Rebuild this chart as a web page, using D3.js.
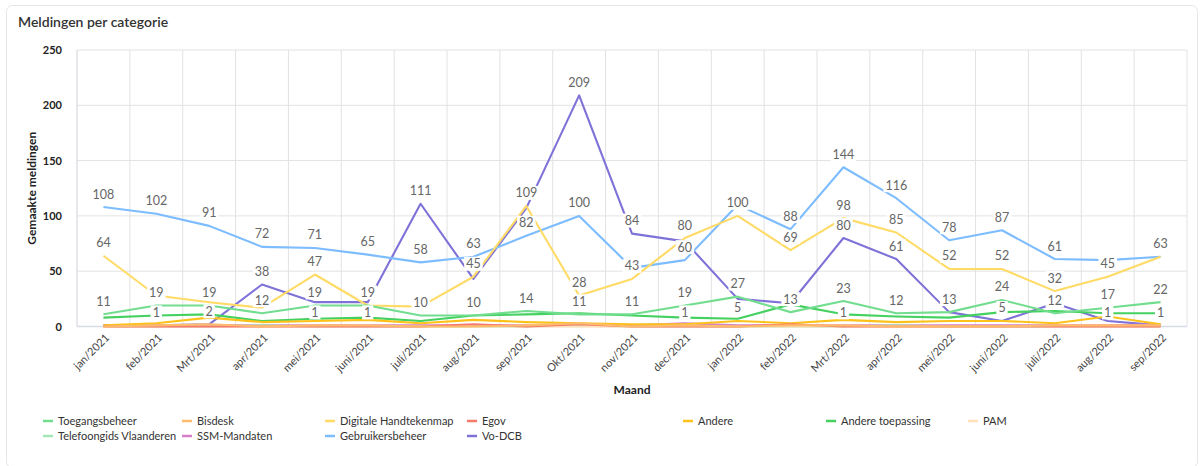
<!DOCTYPE html>
<html>
<head>
<meta charset="utf-8">
<script src="https://cdn.jsdelivr.net/npm/d3@7/dist/d3.min.js"></script>
<style>
	body { margin: 0; background: #fff; font-family: Lato, "Noto Sans", sans-serif; }
</style>
</head>
<body>
<div id="chart"></div>
<script>
const months = [
	"jan/2021", "feb/2021", "Mrt/2021", "apr/2021", "mei/2021", "juni/2021", "juli/2021",
	"aug/2021", "sep/2021", "Okt/2021", "nov/2021", "dec/2021", "jan/2022", "feb/2022",
	"Mrt/2022", "apr/2022", "mei/2022", "juni/2022", "juli/2022", "aug/2022", "sep/2022"
];

const yTicks = [0, 50, 100, 150, 200, 250];

// one array per series, in dataset order
const toegangsbeheer = [11, 19, 19, 12, 19, 19, 10, 10, 14, 11, 11, 19, 27, 13, 23, 12, 13, 24, 12, 17, 22];
const bisdesk = [0, 1, 2, 0, 1, 1, 0, 0, 1, 3, 0, 1, 0, 1, 1, 0, 0, 0, 1, 1, 1];
const digitaleHandtekenmap = [64, 28, 22, 17, 47, 19, 18, 45, 109, 28, 43, 80, 100, 69, 98, 85, 52, 52, 32, 45, 63];
const egov = [0, 0, 0, 0, 0, 0, 0, 2, 0, 2, 0, 0, 0, 2, 0, 0, 0, 0, 0, 0, 0];
const andere = [1, 3, 8, 4, 5, 6, 3, 6, 4, 3, 2, 2, 5, 3, 6, 4, 5, 5, 3, 9, 2];
const andereToepassing = [8, 10, 11, 5, 7, 8, 5, 10, 11, 12, 10, 8, 7, 20, 11, 9, 8, 13, 14, 12, 12];
const pam = [0, 0, 0, 0, 0, 0, 0, 0, 0, 0, 0, 0, 0, 0, 0, 0, 0, 0, 0, 0, 0];
const telefoongids = [0, 0, 0, 1, 0, 0, 0, 0, 0, 1, 0, 0, 0, 0, 0, 1, 0, 0, 0, 0, 0];
const ssmMandaten = [1, 1, 1, 1, 1, 1, 1, 1, 1, 1, 1, 3, 1, 1, 1, 1, 1, 1, 1, 1, 2];
const gebruikersbeheer = [108, 102, 91, 72, 71, 65, 58, 63, 82, 100, 53, 60, 110, 88, 144, 116, 78, 87, 61, 60, 63];
const voDcb = [1, 1, 2, 38, 22, 22, 111, 43, 107, 209, 84, 77, 25, 21, 80, 61, 13, 5, 21, 5, 1];

const seriesNames = [
	"Toegangsbeheer", "Bisdesk", "Digitale Handtekenmap", "Egov", "Andere", "Andere toepassing",
	"PAM", "Telefoongids Vlaanderen", "SSM-Mandaten", "Gebruikersbeheer", "Vo-DCB"
];
const seriesValues = [
	toegangsbeheer, bisdesk, digitaleHandtekenmap, egov, andere, andereToepassing,
	pam, telefoongids, ssmMandaten, gebruikersbeheer, voDcb
];
const seriesColors = [
	"#72dd8f", "#fdbb6c", "#ffdb66", "#f7796c", "#fcc21b", "#45d160",
	"#ffe0b8", "#a5e8b8", "#d680c9", "#7cbcff", "#7e72d8"
];

const W = 1200, H = 466;
const margin = { top: 50, right: 13, bottom: 139.5, left: 77 };
const plotW = W - margin.left - margin.right;
const plotH = H - margin.top - margin.bottom;

const svg = d3.select("#chart")
	.append("svg")
	.attr("width", W)
	.attr("height", H)
	.attr("viewBox", `0 0 ${W} ${H}`);

// card
svg.append("rect")
	.attr("x", 6.5).attr("y", 5.5)
	.attr("width", W - 9).attr("height", H - 4)
	.attr("rx", 6).attr("ry", 6)
	.attr("fill", "#fff")
	.attr("stroke", "#e6e6e6");

svg.append("text")
	.attr("x", 18).attr("y", 27)
	.attr("fill", "#333")
	.style("font-size", "14px")
	.style("font-weight", 600)
	.text("Meldingen per categorie");

const g = svg.append("g")
	.attr("transform", `translate(${margin.left}, ${margin.top})`);

const x = d3.scalePoint().domain(months).range([0, plotW]).padding(0.5);
const xBand = d3.scaleBand().domain(months).range([0, plotW]);
const y = d3.scaleLinear().domain([0, 250]).range([plotH, 0]);

// grid
g.append("g")
	.selectAll("line")
	.data(yTicks)
	.join("line")
	.attr("x1", 0).attr("x2", plotW)
	.attr("y1", d => y(d)).attr("y2", d => y(d))
	.attr("stroke", "#e2e2e2");

g.append("g")
	.selectAll("line")
	.data(months.concat([null]))
	.join("line")
	.attr("x1", d => (d ? xBand(d) : plotW))
	.attr("x2", d => (d ? xBand(d) : plotW))
	.attr("y1", 0).attr("y2", plotH)
	.attr("stroke", "#e2e2e2");

// axis borders
g.append("line")
	.attr("x1", 0).attr("x2", 0).attr("y1", 0).attr("y2", plotH)
	.attr("stroke", "#dcdfe6");
g.append("line")
	.attr("x1", 0).attr("x2", plotW).attr("y1", plotH).attr("y2", plotH)
	.attr("stroke", "#d6dbe6").attr("stroke-width", 1.5);

// y axis
const yAxis = g.append("g")
	.call(d3.axisLeft(y).tickValues(yTicks).tickSize(0).tickPadding(15));
yAxis.select(".domain").remove();
yAxis.selectAll("text")
	.attr("fill", "#222")
	.style("font-family", "Lato, sans-serif")
	.style("font-size", "11px")
	.style("font-weight", 700);

// x axis
const xAxis = g.append("g")
	.attr("transform", `translate(0, ${plotH})`)
	.call(d3.axisBottom(x).tickSize(0).tickPadding(0));
xAxis.select(".domain").remove();
xAxis.selectAll("text")
	.attr("fill", "#444")
	.style("font-family", "Lato, sans-serif")
	.style("font-size", "11px")
	.attr("text-anchor", "end")
	.attr("dy", null)
	.attr("y", 0)
	.attr("transform", "translate(6, 12) rotate(-45)");

svg.append("text")
	.attr("transform", `translate(36, ${margin.top + plotH / 2}) rotate(-90)`)
	.attr("text-anchor", "middle")
	.attr("fill", "#222")
	.style("font-size", "12px")
	.style("font-weight", 700)
	.text("Gemaakte meldingen");

svg.append("text")
	.attr("x", margin.left + plotW / 2)
	.attr("y", 394)
	.attr("text-anchor", "middle")
	.attr("fill", "#222")
	.style("font-size", "12px")
	.style("font-weight", 700)
	.text("Maand");

// lines, last dataset drawn first so dataset 0 is on top
const line = d3.line()
	.x((d, i) => x(months[i]))
	.y(d => y(d));

const order = d3.range(seriesValues.length).reverse();

g.append("g")
	.selectAll("path")
	.data(order)
	.join("path")
	.attr("d", s => line(seriesValues[s]))
	.attr("fill", "none")
	.attr("stroke", s => seriesColors[s])
	.attr("stroke-width", 2.1)
	.attr("stroke-linejoin", "round");

// data labels: above each point, zero hidden, overlapping ones dropped
// (lower month index first, then lower dataset index)
const labelFontSize = 12.5;
const labelH = 17;
const labelOffset = 13;

const measure = svg.append("text")
	.style("font-size", `${labelFontSize}px`)
	.attr("opacity", 0);

const candidates = [];
months.forEach((m, i) => {
	seriesValues.forEach((vals, s) => {
		const v = vals[i];
		if (!v) return;
		measure.text(v);
		const w = measure.node().getComputedTextLength() + 4;
		const cx = x(m);
		const cy = y(v) - labelOffset;
		candidates.push({ v, cx, cy, w, box: [cx - w / 2, cy - labelH / 2, cx + w / 2, cy + labelH / 2] });
	});
});
measure.remove();

const shown = [];
candidates.forEach(c => {
	const hit = shown.some(o =>
		c.box[0] < o.box[2] && c.box[2] > o.box[0] && c.box[1] < o.box[3] && c.box[3] > o.box[1]
	);
	if (!hit) shown.push(c);
});

const labels = g.append("g")
	.selectAll("g")
	.data(shown)
	.join("g")
	.attr("transform", d => `translate(${d.cx}, ${d.cy})`);

labels.append("rect")
	.attr("x", d => -d.w / 2)
	.attr("y", -7)
	.attr("width", d => d.w)
	.attr("height", 14)
	.attr("fill", "#fff");

labels.append("text")
	.attr("text-anchor", "middle")
	.attr("dy", "0.36em")
	.attr("fill", "#666")
	.style("font-size", `${labelFontSize}px`)
	.text(d => d.v);

// legend
const legendCols = [43, 182, 325, 467, 683, 826, 968];
const legendRows = [421, 436];

const legend = svg.append("g")
	.selectAll("g")
	.data(seriesNames)
	.join("g")
	.attr("transform", (d, i) => `translate(${legendCols[i % 7]}, ${legendRows[Math.floor(i / 7)]})`);

legend.append("line")
	.attr("x1", 0).attr("x2", 10)
	.attr("stroke", (d, i) => seriesColors[i])
	.attr("stroke-width", 2.5);

legend.append("text")
	.attr("x", 15)
	.attr("dy", "0.35em")
	.attr("fill", "#333")
	.style("font-size", "11px")
	.text(d => d);
</script>
</body>
</html>
